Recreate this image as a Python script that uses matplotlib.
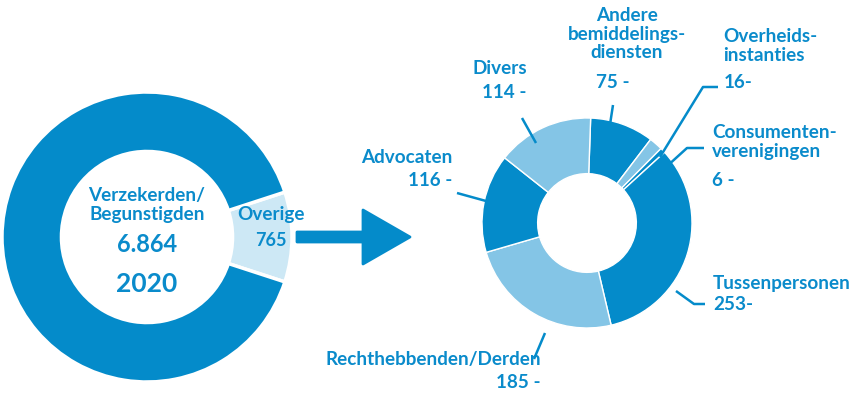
import matplotlib
matplotlib.use("Agg")
import matplotlib.pyplot as plt
from matplotlib.patches import FancyArrow

# ---- data ----
main_labels = ["Verzekerden/\nBegunstigden", "Overige"]
main_values = [6864, 765]
year = "2020"

sub_labels = ["Andere\nbemiddelings-\ndiensten", "Overheids-\ninstanties", "Consumenten-\nverenigingen",
              "Tussenpersonen", "Rechthebbenden/Derden", "Advocaten", "Divers"]
sub_values = [75, 16, 6, 253, 185, 116, 114]
sub_value_text = ["75 -", "16-", "6 -", "253-", "185 -", "116 -", "114 -"]

DARK = "#048bca"
LIGHT = "#84c5e6"
PALE = "#cde8f5"
TXT = "#0a8bcb"
sub_colors = [DARK, LIGHT, DARK, DARK, LIGHT, DARK, LIGHT]

plt.rcParams['font.family'] = ['Lato', 'DejaVu Sans']

W, H = 850, 394
fig = plt.figure(figsize=(W / 100, H / 100), dpi=100)

def px_axes(x0, y0, x1, y1):
    return fig.add_axes([x0 / W, 1 - y1 / H, (x1 - x0) / W, (y1 - y0) / H])

# left donut
axL = px_axes(2, 92, 292, 382)
total = sum(main_values)
start = -main_values[1] / total * 180
axL.pie(main_values[::-1], colors=[PALE, DARK], startangle=start, counterclock=True,
        radius=1, wedgeprops=dict(width=0.41, edgecolor="white", linewidth=2.5))
axL.set_xlim(-1, 1); axL.set_ylim(-1, 1); axL.set_aspect("equal"); axL.axis("off")

# right donut
axR = px_axes(482, 118, 692, 328)
axR.pie(sub_values, colors=sub_colors, startangle=88, counterclock=False,
        radius=1, wedgeprops=dict(width=0.53, edgecolor="white", linewidth=1))
axR.set_xlim(-1, 1); axR.set_ylim(-1, 1); axR.set_aspect("equal"); axR.axis("off")

# overlay for text, leaders, arrow
ov = fig.add_axes([0, 0, 1, 1], facecolor="none")
ov.set_xlim(0, W); ov.set_ylim(H, 0); ov.axis("off")

fs = 13.6
kw = dict(color=TXT, fontweight="bold", fontsize=fs)

# left texts
ov.text(147, 205, main_labels[0], ha="center", va="center", linespacing=1.2, **kw)
ov.text(147, 244, f"{main_values[0]:,}".replace(",", "."), ha="center", va="center",
        color=TXT, fontweight="bold", fontsize=17)
ov.text(147, 284, year, ha="center", va="center", color=TXT, fontweight="bold", fontsize=19)
ov.text(271, 214, main_labels[1], ha="center", va="center", **kw)
ov.text(271, 240, str(main_values[1]), ha="center", va="center", color=TXT, fontweight="bold", fontsize=13)

# arrow
ov.add_patch(FancyArrow(297, 237, 113, 0, width=10, head_width=54, head_length=47,
                        length_includes_head=True, color=DARK, joinstyle="round", linewidth=2))

lines_kw = dict(color=DARK, linewidth=1.8, solid_capstyle="butt")

# Andere
ov.text(627, 34, sub_labels[0], ha="center", va="center", linespacing=1.1, **kw)
ov.text(613, 82, sub_value_text[0], ha="center", va="center", **kw)
ov.plot([613, 609], [105, 131], **lines_kw)
# Overheids
ov.text(723, 46, sub_labels[1], ha="left", va="center", linespacing=1.1, **kw)
ov.text(724, 82, sub_value_text[1], ha="left", va="center", **kw)
ov.plot([718, 703, 660], [87, 87, 157], **lines_kw)
# Consumenten
ov.text(712, 142, sub_labels[2], ha="left", va="center", linespacing=1.1, **kw)
ov.text(712, 180, sub_value_text[2], ha="left", va="center", **kw)
ov.plot([704, 687, 665], [148, 148, 168], **lines_kw)
# Tussenpersonen
ov.text(713, 283, sub_labels[3], ha="left", va="center", **kw)
ov.text(713, 305, sub_value_text[3], ha="left", va="center", **kw)
ov.plot([676, 694, 705], [291, 304, 304], **lines_kw)
# Rechthebbenden
ov.text(541, 360, sub_labels[4], ha="right", va="center", **kw)
ov.text(541, 382, sub_value_text[4], ha="right", va="center", **kw)
ov.plot([545, 534], [333, 359], **lines_kw)
# Advocaten
ov.text(452, 157, sub_labels[5], ha="right", va="center", **kw)
ov.text(452, 180, sub_value_text[5], ha="right", va="center", **kw)
ov.plot([457, 486], [193, 201], **lines_kw)
# Divers
ov.text(500, 68, sub_labels[6], ha="center", va="center", **kw)
ov.text(527, 92, sub_value_text[6], ha="right", va="center", **kw)
ov.plot([522, 536], [118, 143], **lines_kw)

fig.savefig("out.png", dpi=100)
